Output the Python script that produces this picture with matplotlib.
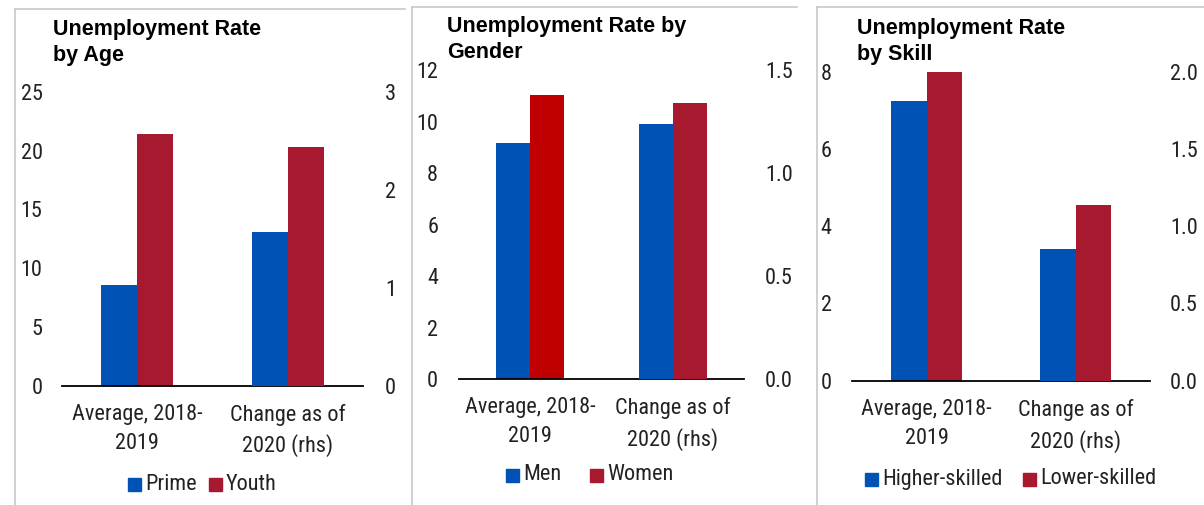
import matplotlib
matplotlib.use("Agg")
import matplotlib.pyplot as plt
from matplotlib import font_manager
from matplotlib.patches import Rectangle
from matplotlib.lines import Line2D

# ---- data -------------------------------------------------------------
categories = ["Average, 2018-\n2019", "Change as of\n2020 (rhs)"]

age_title = "Unemployment Rate\nby Age"
age_series = ["Prime", "Youth"]
age_avg = [8.55, 21.45]          # lhs
age_change = [1.57, 2.44]        # rhs

gender_title = "Unemployment Rate by\nGender"
gender_series = ["Men", "Women"]
gender_avg = [9.15, 11.03]       # lhs
gender_change = [1.24, 1.34]     # rhs

skill_title = "Unemployment Rate\nby Skill"
skill_series = ["Higher-skilled", "Lower-skilled"]
skill_avg = [7.24, 8.0]          # lhs
skill_change = [0.85, 1.14]      # rhs

age_lticks = [0, 5, 10, 15, 20, 25]
age_rticks = [0, 1, 2, 3]
gender_lticks = [0, 2, 4, 6, 8, 10, 12]
gender_rticks = [0.0, 0.5, 1.0, 1.5]
skill_lticks = [0, 2, 4, 6, 8]
skill_rticks = [0.0, 0.5, 1.0, 1.5, 2.0]

# ---- style ------------------------------------------------------------
BLUE = "#0052B4"
RED = "#A6192E"
BRIGHT_RED = "#C00000"
FRAME = "#C8C8C8"
TXT = "#222222"

available = {f.name for f in font_manager.fontManager.ttflist}
NARROW = next((n for n in ("Liberation Sans Narrow", "Arial Narrow", "Roboto Condensed",
                           "Archivo Narrow", "Liberation Sans") if n in available), "DejaVu Sans")
BOLD = "Liberation Sans" if "Liberation Sans" in available else "DejaVu Sans"

W, H = 1204, 505
fig = plt.figure(figsize=(W / 100, H / 100), dpi=100)


def px_axes(left, right, bottom, top):
    return fig.add_axes([left / W, (H - bottom) / H, (right - left) / W, (bottom - top) / H])


def panel(box, title, title_xy, series, avg, change, lticks, rticks, rfmt,
          lpad, rpad, legend, avg_colors=(BLUE, RED)):
    ax = px_axes(*box)
    ax2 = ax.twinx()
    w = 0.24
    ax.bar([0 - w / 2, 0 + w / 2], avg, width=w, color=list(avg_colors), clip_on=False, zorder=3)
    ax2.bar([1 - w / 2, 1 + w / 2], change, width=w, color=[BLUE, RED], clip_on=False, zorder=3)
    ax.set_xlim(-0.5, 1.5)
    ax.set_ylim(lticks[0], lticks[-1])
    ax2.set_ylim(rticks[0], rticks[-1])
    ax.set_yticks(lticks)
    ax.set_yticklabels([str(t) for t in lticks])
    ax2.set_yticks(rticks)
    ax2.set_yticklabels([rfmt.format(t) for t in rticks])
    ax.set_xticks([0, 1])
    ax.set_xticklabels(categories, linespacing=1.5)
    for a in (ax, ax2):
        for s in ("top", "left", "right", "bottom"):
            a.spines[s].set_visible(False)
        a.set_facecolor("none")
    ax.spines["bottom"].set_visible(True)
    ax.spines["bottom"].set_color("black")
    ax.spines["bottom"].set_linewidth(1.3)
    ax.spines["bottom"].set_zorder(5)
    ax.tick_params(axis="y", length=0, pad=lpad, labelsize=16, labelcolor=TXT)
    ax2.tick_params(axis="y", length=0, pad=rpad, labelsize=16, labelcolor=TXT)
    ax.tick_params(axis="x", length=0, pad=13, labelsize=16, labelcolor=TXT)
    for lab in ax.get_yticklabels() + ax2.get_yticklabels() + ax.get_xticklabels():
        lab.set_fontfamily(NARROW)
    fig.text(title_xy[0] / W, 1 - title_xy[1] / H, title, fontfamily=BOLD, fontweight="bold",
             fontsize=15.5, color="black", va="top", ha="left", linespacing=1.3)
    # legend: two coloured squares with labels
    (x1, x2, y) = legend
    for x, col, name in ((x1, BLUE, series[0]), (x2, RED, series[1])):
        fig.patches.append(Rectangle((x / W, (H - y - 6.5) / H), 12.5 / W, 13 / H,
                                     transform=fig.transFigure, color=col))
        fig.text((x + 17) / W, 1 - y / H, name, fontfamily=NARROW, fontsize=16,
                 color=TXT, va="center", ha="left")


def frame(x, y, x_end):
    fig.add_artist(Line2D([x / W, x / W], [1 - y / H, 0], color=FRAME, lw=1.2))
    fig.add_artist(Line2D([x / W, x_end / W], [1 - y / H, 1 - y / H], color=FRAME, lw=1.2))


frame(15, 9, 405)
frame(412, 7, 797)
frame(817, 7, 1204)

panel((62, 363, 385.5, 92), age_title, (53, 19), age_series, age_avg, age_change,
      age_lticks, age_rticks, "{:.0f}", 14, 16, (128, 209, 484))
panel((459, 744, 379.3, 70), gender_title, (447, 16), gender_series, gender_avg, gender_change,
      gender_lticks, gender_rticks, "{:.1f}", 15, 15, (506, 590, 475),
      avg_colors=(BLUE, BRIGHT_RED))
panel((852, 1150, 380.7, 71.7), skill_title, (857, 18), skill_series, skill_avg, skill_change,
      skill_lticks, skill_rticks, "{:.1f}", 14.5, 14.5, (865, 1023, 479))

fig.savefig("out.png", dpi=100, facecolor="white")
